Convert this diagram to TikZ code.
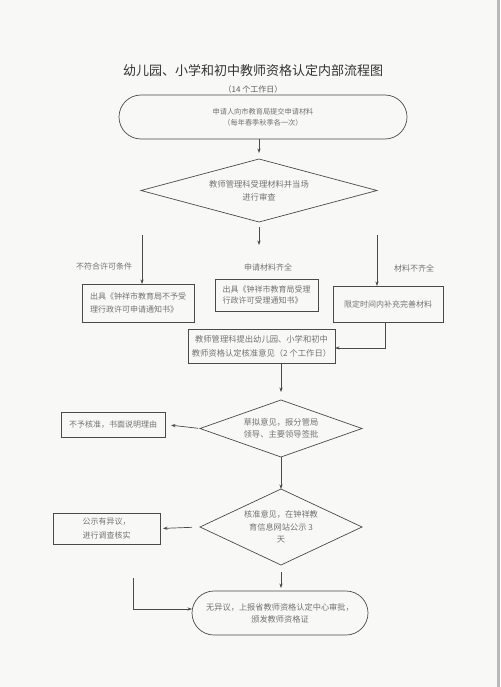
\documentclass[tikz,border=0pt]{standalone}
\usepackage{fontspec}
\setmainfont{Noto Sans CJK SC}
\usetikzlibrary{shapes.geometric,arrows.meta}
\definecolor{ln}{HTML}{4A4A4A}
\definecolor{tx}{HTML}{737373}
\definecolor{ttl}{HTML}{333333}
\definecolor{bg}{HTML}{F8F8F6}
\begin{document}
\begin{tikzpicture}[x=1pt,y=-1pt,
  txt/.style={text=tx, font=\fontsize{8}{12.5}\selectfont, inner sep=0pt, outer sep=0pt, align=center},
  box/.style={txt, draw=ln, line width=0.7pt, rectangle},
  decision/.style={txt, draw=ln, line width=0.7pt, diamond},
  stadium/.style={txt, draw=ln, line width=0.7pt, rectangle, rounded corners=22pt},
  arr/.style={draw=ln, line width=0.7pt, -{Stealth[length=4.5pt,width=3.2pt]}},
  plain/.style={draw=ln, line width=0.7pt}
]
\fill[bg] (0,0) rectangle (500,687);
\fill[gray!55] (497,0) rectangle (500,687);
\useasboundingbox (0,0) rectangle (500,687);

% title
\node[text=ttl, font=\fontsize{13}{15}\selectfont, inner sep=0pt] (title) at (253,71) {幼儿园、小学和初中教师资格认定内部流程图};
\node[txt, text=ttl!80] (sub) at (253,89) {（14 个工作日）};

% nodes
\node[stadium, minimum width=288pt, minimum height=44pt, font=\fontsize{7.2}{11}\selectfont] (start) at (263,117)
  {申请人向市教育局提交申请材料\\（每年春季秋季各一次）};
\node[decision, minimum width=236pt, minimum height=63pt, aspect=3.7, font=\fontsize{8.3}{13}\selectfont] (d1) at (259,190.5)
  {教师管理科受理材料并当场\\进行审查};

\node[box, minimum width=112pt, minimum height=38pt, align=left] (leftbox) at (138,303)
  {出具《钟祥市教育局不予受\\理行政许可申请通知书》};
\node[box, minimum width=103pt, minimum height=32pt, align=left, font=\fontsize{8}{11}\selectfont] (midbox) at (266.5,295)
  {出具《钟祥市教育局受理\\行政许可受理通知书》};
\node[box, minimum width=110pt, minimum height=36pt] (rightbox) at (388,304)
  {限定时间内补充完善材料};

\node[txt] (lbl1) at (104,266) {不符合许可条件};
\node[txt] (lbl2) at (268,267) {申请材料齐全};
\node[txt] (lbl3) at (414,268) {材料不齐全};

\node[box, minimum width=147pt, minimum height=34pt, font=\fontsize{8.3}{14}\selectfont] (box2) at (261.5,346)
  {教师管理科提出幼儿园、小学和初中\\教师资格认定核准意见（2 个工作日）};

\node[decision, minimum width=162pt, minimum height=57pt, aspect=2.8, font=\fontsize{8.3}{11.5}\selectfont] (d2) at (281,428.5)
  {草拟意见，报分管局\\领导、主要领导签批};
\node[box, minimum width=104pt, minimum height=25pt] (rejbox) at (113,424.5)
  {不予核准，书面说明理由};

\node[decision, minimum width=162pt, minimum height=76pt, aspect=2.1, font=\fontsize{8.2}{12.5}\selectfont] (d3) at (281,527)
  {核准意见，在钟祥教\\育信息网站公示 3\\天};
\node[box, minimum width=107pt, minimum height=31pt, font=\fontsize{8}{14}\selectfont] (objbox) at (106.5,528.5)
  {公示有异议，\\进行调查核实};

\node[stadium, minimum width=176pt, minimum height=44pt, font=\fontsize{8.2}{12}\selectfont] (final) at (280,613)
  {无异议，上报省教师资格认定中心审批，\\颁发教师资格证};

% free ends
\coordinate (m1) at (259,245);
\coordinate (l1) at (142,235);
\coordinate (r1) at (377,235);
\coordinate (l2) at (133,578);

% connectors
\draw[arr, shorten >=6pt] (start.south -| d1.north) -- (d1.north);
\draw[arr, shorten <=5pt] (d1.south) -- (m1);
\draw[arr] (l1) -- (l1 |- leftbox.north);
\draw[arr] (r1) -- (r1 |- rightbox.north);
\draw[arr] ([xshift=-3pt]rightbox.south) |- ([yshift=-2pt]box2.east);
\draw[arr, shorten >=8pt] (box2.south -| d2.north) -- (d2.north);
\draw[arr, shorten <=2pt, shorten >=6pt] (d2.west) -- (rejbox.east);
\draw[arr] (d2.south) -- (d3.north);
\draw[arr, shorten <=8pt, shorten >=3pt] (d3.west) -- (objbox.east);
\draw[arr, shorten <=7pt, shorten >=3pt] (d3.south) -- (final.north -| d3.south);
\draw[arr] (l2) |- ([yshift=4pt]final.west);
\end{tikzpicture}
\end{document}
